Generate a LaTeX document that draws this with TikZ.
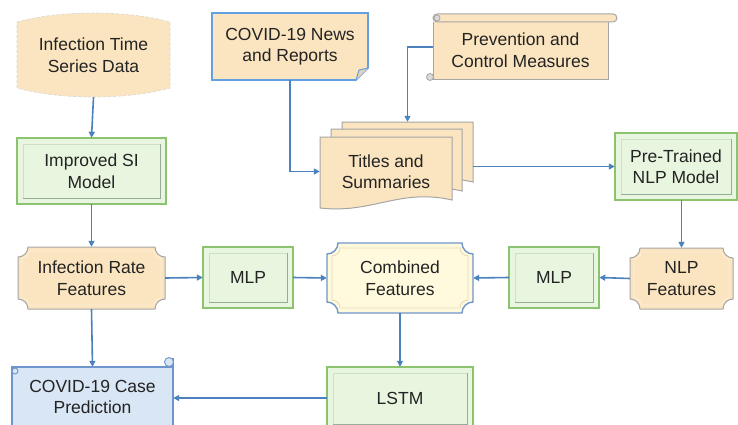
\documentclass[tikz,border=0pt]{standalone}
\usepackage{fontspec}
\setmainfont{Liberation Sans}
\usetikzlibrary{arrows.meta}
\definecolor{peach}{RGB}{251,229,192}
\definecolor{peachd}{RGB}{165,165,165}
\definecolor{peachi}{RGB}{253,240,218}
\definecolor{gfill}{RGB}{232,246,224}
\definecolor{gline}{RGB}{140,195,110}
\definecolor{ginl}{RGB}{205,222,205}
\definecolor{gind}{RGB}{150,172,150}
\definecolor{bline}{RGB}{110,150,205}
\definecolor{nline}{RGB}{100,160,225}
\definecolor{arr}{RGB}{75,130,190}
\definecolor{cfill}{RGB}{255,250,222}
\definecolor{cinner}{RGB}{228,218,180}
\definecolor{pfill}{RGB}{217,230,245}
\definecolor{txt}{RGB}{35,35,35}
\newcommand\gbx[4]{%
  \fill[gfill] (#1,#2) rectangle (#3,#4);
  \draw[ginl, line width=0.9pt] ({#1+6},{#4-6}) -- ({#1+6},{#2+6}) -- ({#3-6},{#2+6});
  \draw[gind, line width=0.9pt] ({#3-6},{#2+6}) -- ({#3-6},{#4-6}) -- ({#1+6},{#4-6});
  \draw[gline, line width=1.6pt] (#1,#2) rectangle (#3,#4);}
\newcommand\plq[6]{%
  \path[#6] ({#1+#5},#2) -- ({#3-#5},#2) .. controls ({#3-#5},{#2+0.55*#5}) and ({#3-0.55*#5},{#2+#5}) .. (#3,{#2+#5})
   -- (#3,{#4-#5}) .. controls ({#3-0.55*#5},{#4-#5}) and ({#3-#5},{#4-0.55*#5}) .. ({#3-#5},#4)
   -- ({#1+#5},#4) .. controls ({#1+#5},{#4-0.55*#5}) and ({#1+0.55*#5},{#4-#5}) .. (#1,{#4-#5})
   -- (#1,{#2+#5}) .. controls ({#1+0.55*#5},{#2+#5}) and ({#1+#5},{#2+0.55*#5}) .. cycle;}
\newcommand\docshp[4]{%
  \path[fill=peach, draw=peachd, line width=1pt] (#1,#2) -- (#3,#2) -- (#3,{#4-8})
   .. controls ({#3-0.4*(#3-#1)},{#4-20}) and ({#1+0.4*(#3-#1)},{#4+6}) .. (#1,#4) -- cycle;}
\tikzset{
  lbl/.style={align=center, inner sep=0pt, text=txt, font=\fontsize{17.5}{21.5}\selectfont},
  conn/.style={draw=arr, line width=1.6pt, -{Triangle[length=6pt,width=6pt]}},
}
\begin{document}
\begin{tikzpicture}[x=1pt,y=-1pt]
\clip (0,0) rectangle (738,425);
\fill[white] (0,0) rectangle (738,425);

% Infection time series data
\path[fill=peach, draw=peachd!45, densely dashed, line width=0.6pt] (17,22) .. controls (60,10) and (127,10) .. (170,22) -- (170,88)
  .. controls (127,100) and (60,100) .. (17,88) -- cycle;
% Improved SI model
\gbx{17}{138}{166}{204}
% News
\path[fill=peach, draw=nline, line width=1.6pt] (212,13) -- (368,13) -- (368,68) -- (356,80) -- (212,80) -- cycle;
\path[fill=peach!80!gray, draw=nline, line width=1pt] (368,68) -- (359,70) -- (356,80);
% Prevention scroll
\path[fill=peach, draw=peachd, line width=1pt] (433,22) -- (433,80) -- (608,80) -- (608,22);
\path[fill=peach, draw=peachd, line width=1pt, rounded corners=4pt] (433,14) rectangle (617,22);
\path[fill=peachd!40, draw=peachd, line width=0.8pt] (437,18) circle[radius=3];
\path[fill=peachd!40, draw=peachd, line width=0.8pt] (430,77) circle[radius=3.5];
% Titles and summaries
\docshp{342}{122}{473}{190}
\docshp{331}{129}{462}{199}
\docshp{320}{137}{452}{208}
% Pre-trained
\gbx{615}{133}{737}{200}
% Infection rate features
\plq{18}{247}{165}{309}{10}{fill=peach, draw=peachd, line width=1pt}
\plq{22}{251}{161}{305}{7}{draw=peachi, line width=0.8pt}
% MLP 1
\gbx{203}{247}{293}{308}
% Combined
\plq{327}{243}{473}{313}{11}{fill=cfill, draw=bline, line width=1.4pt}
\plq{332}{248}{468}{308}{8}{draw=cinner, line width=0.8pt}
% MLP 2
\gbx{509}{247}{599}{308}
% NLP features
\plq{630}{248}{733}{309}{10}{fill=peach, draw=peachd, line width=1pt}
\plq{634}{252}{729}{305}{7}{draw=peachi, line width=0.8pt}
% Prediction scroll
\fill[pfill] (12,367) rectangle (173,430);
\draw[bline, line width=1.3pt] (12,430) -- (12,367) -- (173,367);
\draw[bline, line width=1.3pt] (173,358) -- (173,430);
\path[fill=pfill, draw=bline, line width=0.9pt] (15,371) circle[radius=3];
\path[fill=pfill, draw=bline, line width=0.9pt] (169,362) circle[radius=4.5];
% LSTM
\gbx{327}{367}{473}{430}

% text nodes
\node[lbl, minimum width=153pt, minimum height=84pt] (its) at (93.5,55) {Infection Time\\Series Data};
\node[lbl, minimum width=149pt, minimum height=66pt] (si) at (91.5,171) {Improved SI\\Model};
\node[lbl, minimum width=156pt, minimum height=67pt] (news) at (290,46.5) {COVID-19 News\\and Reports};
\node[lbl, minimum width=175pt, minimum height=58pt] (prev) at (520.5,50) {Prevention and\\Control Measures};
\node[lbl, minimum width=131pt, minimum height=58pt] (tsb) at (407.5,151) {};
\node[lbl, minimum width=132pt, minimum height=71pt] (tsf) at (386,171.5) {Titles and\\Summaries};
\node[lbl, minimum width=122pt, minimum height=67pt] (ptm) at (676,166.5) {Pre-Trained\\NLP Model};
\node[lbl, minimum width=147pt, minimum height=62pt] (irf) at (91.5,278) {Infection Rate\\Features};
\node[lbl, minimum width=90pt, minimum height=61pt] (mlpa) at (248,277.5) {MLP};
\node[lbl, minimum width=146pt, minimum height=70pt] (comb) at (400,278) {Combined\\Features};
\node[lbl, minimum width=90pt, minimum height=61pt] (mlpb) at (554,277.5) {MLP};
\node[lbl, minimum width=103pt, minimum height=61pt] (nlpf) at (681.5,278.5) {NLP\\Features};
\node[lbl, minimum width=161pt, minimum height=60pt] (pred) at (92.5,397) {COVID-19 Case\\Prediction};
\node[lbl, minimum width=146pt, minimum height=62pt] (lstm) at (400,398) {LSTM};

% connectors
\draw[conn] (its.south) -- (si.north);
\draw[conn] (si.south) -- (irf.north);
\draw[conn] (irf.south) -- (pred.north);
\draw[conn] (irf.east) -- (mlpa.west);
\draw[conn] (mlpa.east) -- (comb.west);
\draw[conn] (mlpb.west) -- (comb.east);
\draw[conn] (nlpf.west) -- (mlpb.east);
\draw[conn] (comb.south) -- (lstm.north);
\draw[conn] (lstm.west) -- (lstm.west -| pred.east);
\draw[conn] (news.south) |- (tsf.west);
\draw[conn] ([yshift=3pt]prev.west) -| (tsb.north);
\draw[conn] (ptm.west -| tsb.east) -- (ptm.west);
\draw[conn] (nlpf.north |- ptm.south) -- (nlpf.north);
\end{tikzpicture}
\end{document}
